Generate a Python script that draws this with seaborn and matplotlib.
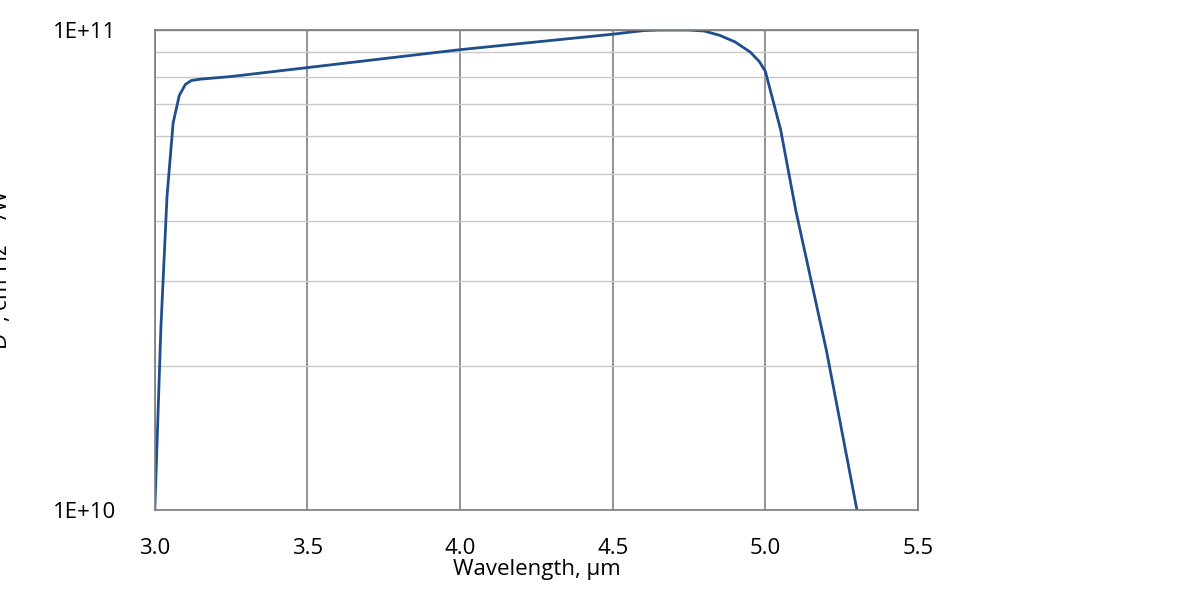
import matplotlib
matplotlib.use("Agg")
import matplotlib.pyplot as plt
import seaborn as sns
import pandas as pd
from matplotlib.ticker import FixedLocator, NullFormatter

wavelength = [3.0, 3.02, 3.04, 3.06, 3.08, 3.1, 3.12, 3.15, 3.2, 3.25, 3.5, 4.0, 4.5, 4.6, 4.65, 4.75, 4.8, 4.85, 4.9, 4.95, 4.98, 5.0, 5.05, 5.1, 5.2, 5.3]
dstar = [1.0e10, 2.4e10, 4.5e10, 6.4e10, 7.3e10, 7.7e10, 7.85e10, 7.9e10, 7.95e10, 8.0e10, 8.35e10, 9.1e10, 9.8e10, 9.97e10, 1.0e11, 1.0e11, 9.95e10, 9.75e10, 9.45e10, 9.0e10, 8.6e10, 8.2e10, 6.2e10, 4.2e10, 2.15e10, 1.0e10]

sns.set_theme(style="white")
plt.rcParams['font.family'] = ['Open Sans', 'DejaVu Sans']
plt.rcParams['text.color'] = 'black'

fig = plt.figure(figsize=(12, 6), dpi=100)
ax = fig.add_axes([0.129, 0.15, 0.636, 0.80])
df = pd.DataFrame({"w": wavelength, "d": dstar})
sns.lineplot(data=df, x="w", y="d", ax=ax, color="#1f4e8c", linewidth=2)
ax.set_yscale("log")
ax.set_xlim(3.0, 5.5)
ax.set_ylim(1e10, 1e11)
ax.set_xticks([3.0, 3.5, 4.0, 4.5, 5.0, 5.5])
ax.set_xticklabels(["3.0", "3.5", "4.0", "4.5", "5.0", "5.5"], fontsize=16)
ax.yaxis.set_major_locator(FixedLocator([1e10, 1e11]))
ax.set_yticklabels(["1E+10", "1E+11"], fontsize=16)
ax.yaxis.set_minor_locator(FixedLocator([k * 1e10 for k in range(2, 10)]))
ax.yaxis.set_minor_formatter(NullFormatter())
ax.grid(True, which="major", axis="x", color="#808080", linewidth=1.2)
ax.grid(True, which="minor", axis="y", color="#c8c8c8", linewidth=1)
ax.grid(True, which="major", axis="y", color="#808080", linewidth=1)
ax.tick_params(axis="x", which="both", length=0, pad=20, labelcolor="black")
ax.tick_params(axis="y", which="both", length=0, pad=28, labelcolor="black")
for s in ax.spines.values():
    s.set_color("#808080")
ax.set_xlabel("Wavelength, µm", fontsize=16, labelpad=0, color="black")
ax.set_ylabel(r"D*, cm$\cdot$Hz$^{1/2}$/W", fontsize=16, labelpad=28, color="black")
fig.savefig("out.png")
